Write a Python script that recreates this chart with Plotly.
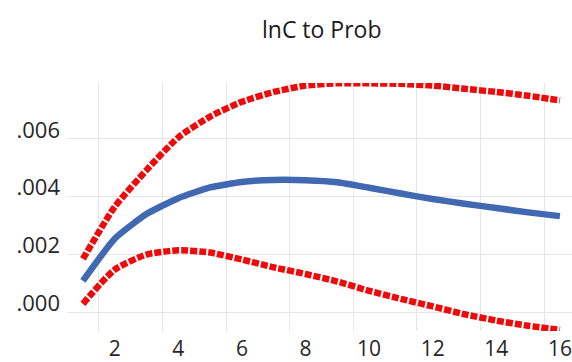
import plotly.graph_objects as go

periods = list(range(1, 17))
center = [0.00109, 0.00255, 0.00340, 0.00395, 0.00432, 0.00451, 0.00458, 0.00457,
          0.00450, 0.00431, 0.00411, 0.00392, 0.00376, 0.00361, 0.00346, 0.00333]
upper = [0.00185, 0.00365, 0.00492, 0.00605, 0.00677, 0.00728, 0.00762, 0.00784,
         0.00792, 0.00792, 0.00790, 0.00784, 0.00773, 0.00762, 0.00749, 0.00733]
lower = [0.00030, 0.00148, 0.00200, 0.00215, 0.00207, 0.00183, 0.00156, 0.00133,
         0.00107, 0.00075, 0.00047, 0.00021, -0.00006, -0.00028, -0.00046, -0.00060]

x_ticks = [2, 4, 6, 8, 10, 12, 14, 16]
y_ticks = [0.000, 0.002, 0.004, 0.006]
y_labels = [".000", ".002", ".004", ".006"]
x_grid = [p + 0.5 for p in periods[:-1:2]]

RED = "#EE0A0A"
BLUE = "#4169B2"
FONT = "Open Sans"

fig = go.Figure()
for band in (upper, lower):
    fig.add_trace(go.Scatter(x=periods, y=band, mode="lines",
                             line=dict(color=RED, width=6.5, dash="7px,2px",
                                       shape="spline", smoothing=0.6),
                             showlegend=False, hoverinfo="skip"))
fig.add_trace(go.Scatter(x=periods, y=center, mode="lines",
                         line=dict(color=BLUE, width=6.5, shape="spline", smoothing=0.5),
                         showlegend=False, hoverinfo="skip"))

fig.update_layout(
    width=572, height=362,
    margin=dict(l=67, r=0, t=83, b=24),
    paper_bgcolor="white", plot_bgcolor="white",
    font=dict(family=FONT, color="#262626"),
    title=dict(text="lnC to Prob", x=0.5625, xanchor="center", y=0.917, yanchor="middle",
               font=dict(family=FONT, size=23, color="#1a1a1a")),
    xaxis=dict(range=[0.5, 16.38], tickmode="array", tickvals=x_ticks,
               showgrid=False, zeroline=False, showline=False, ticks="",
               ticklabelstandoff=3,
               tickfont=dict(size=21, color="#262626"),
               minor=dict(tickmode="array", tickvals=x_grid, showgrid=True,
                          gridcolor="#E6E6E6", gridwidth=1, ticks="")),
    yaxis=dict(range=[-0.00064, 0.00793], tickmode="array", tickvals=y_ticks,
               ticktext=y_labels, showgrid=True, gridcolor="#E6E6E6", gridwidth=1,
               zeroline=False, showline=False, ticks="",
               ticklabelshift=-9, ticklabelstandoff=6,
               tickfont=dict(size=22, color="#262626")),
)

fig.write_html("out.html")
